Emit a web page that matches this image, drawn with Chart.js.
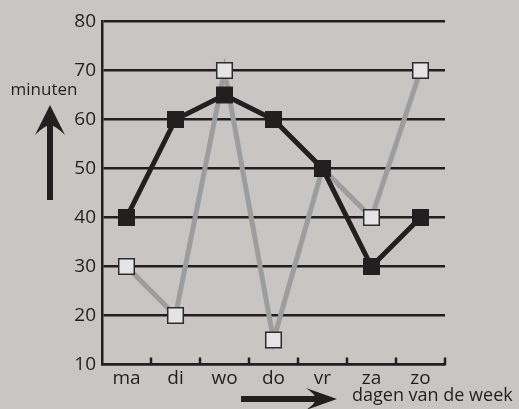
<!DOCTYPE html>
<html>
<head>
<meta charset="utf-8">
<script src="https://cdn.jsdelivr.net/npm/chart.js@4/dist/chart.umd.min.js"></script>
<style>
    body { margin: 0; background: #c9c5c3; }
    canvas { display: block; }
</style>
</head>
<body>
<canvas id="chart" width="519" height="409"></canvas>
<script>
const days = ['ma', 'di', 'wo', 'do', 'vr', 'za', 'zo'];
const blackSeries = [40, 60, 65, 60, 50, 30, 40];
const graySeries = [30, 20, 70, 15, 50, 40, 70];
const yTicks = [10, 20, 30, 40, 50, 60, 70, 80];

const ink = '#231f20';
const font = "'Open Sans', sans-serif";

// tick marks pointing up from the x axis, on the category borders
const upTicks = {
    id: 'upTicks',
    afterDraw(chart) {
        const ctx = chart.ctx;
        const x = chart.scales.x;
        const step = x.getPixelForValue(1) - x.getPixelForValue(0);
        const start = x.getPixelForValue(0) - step / 2;
        ctx.save();
        ctx.strokeStyle = ink;
        ctx.lineWidth = 2.5;
        for (let i = 1; i <= days.length; i++) {
            let px = start + i * step;
            ctx.beginPath();
            ctx.moveTo(px, x.top);
            ctx.lineTo(px, x.top - 7);
            ctx.stroke();
        }
        ctx.restore();
    }
};

// axis captions with their arrows
const captions = {
    id: 'captions',
    afterDraw(chart) {
        const ctx = chart.ctx;
        ctx.save();
        ctx.fillStyle = ink;
        ctx.font = "17px " + font;
        ctx.textBaseline = 'middle';
        ctx.textAlign = 'center';
        ctx.fillText('minuten', 44, 90);
        ctx.textAlign = 'left';
        ctx.font = "18px " + font;
        ctx.fillText('dagen van de week', 352, 396);

        // up arrow
        ctx.fillRect(47, 125, 6, 75);
        ctx.beginPath();
        ctx.moveTo(50, 105);
        ctx.lineTo(65, 135);
        ctx.quadraticCurveTo(56, 126, 50, 125);
        ctx.quadraticCurveTo(44, 126, 35, 135);
        ctx.closePath();
        ctx.fill();

        // right arrow
        ctx.fillRect(241, 396, 76, 6);
        ctx.beginPath();
        ctx.moveTo(337, 399);
        ctx.lineTo(306, 388);
        ctx.quadraticCurveTo(315, 394, 316, 399);
        ctx.quadraticCurveTo(315, 404, 306, 410);
        ctx.closePath();
        ctx.fill();
        ctx.restore();
    }
};

new Chart(document.getElementById('chart'), {
    type: 'line',
    data: {
        labels: days,
        datasets: [{
            data: blackSeries,
            borderColor: ink,
            borderWidth: 5,
            pointStyle: 'rect',
            pointRadius: 12,
            pointBackgroundColor: ink,
            pointBorderColor: ink,
            pointBorderWidth: 0,
            tension: 0,
            clip: false
        }, {
            data: graySeries,
            borderColor: '#9c9d9f',
            borderWidth: 5,
            pointStyle: 'rect',
            pointRadius: 11,
            pointBackgroundColor: '#e4e4e6',
            pointBorderColor: '#2e2b2c',
            pointBorderWidth: 1.5,
            tension: 0,
            clip: false
        }]
    },
    options: {
        responsive: false,
        animation: false,
        events: [],
        layout: {
            padding: { top: 21.5, right: 74, bottom: 0, left: 0 }
        },
        scales: {
            x: {
                offset: true,
                grid: { display: false, drawTicks: false },
                border: { display: true, color: ink, width: 2.5 },
                ticks: {
                    color: ink,
                    padding: 3,
                    font: { family: font, size: 19 }
                },
                afterFit(scale) { scale.height = 44.5; }
            },
            y: {
                min: 10,
                max: 80,
                afterBuildTicks(scale) { scale.ticks = yTicks.map(v => ({ value: v })); },
                grid: { color: ink, lineWidth: 2.5, drawTicks: false },
                border: { display: true, color: ink, width: 2.5 },
                ticks: {
                    color: ink,
                    padding: 6,
                    font: { family: font, size: 19 }
                },
                afterFit(scale) { scale.width = 102; }
            }
        },
        plugins: {
            legend: { display: false },
            tooltip: { enabled: false }
        }
    },
    plugins: [upTicks, captions]
});
</script>
</body>
</html>
